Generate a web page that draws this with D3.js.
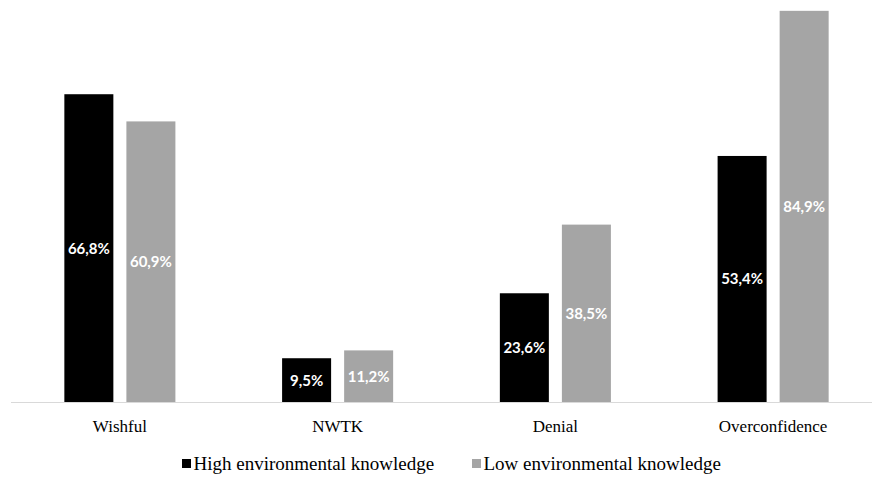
<!DOCTYPE html>
<html>
<head>
<meta charset="utf-8">
<script src="https://cdn.jsdelivr.net/npm/d3@7/dist/d3.min.js"></script>
<style>
  html, body { margin: 0; padding: 0; background: #fff; }
  svg { display: block; }
</style>
</head>
<body>
<svg id="chart" width="872" height="478"></svg>
<script>
// Denial-strategy shares by level of environmental knowledge (%)
const categories = ["Wishful", "NWTK", "Denial", "Overconfidence"];
const seriesNames = ["High environmental knowledge", "Low environmental knowledge"];
const highValues = [66.8, 9.5, 23.6, 53.4];
const lowValues = [60.9, 11.2, 38.5, 84.9];
const seriesColors = ["#000000", "#a5a5a5"];

const rows = categories.map((c, i) => ({
  category: c,
  values: [
    { series: seriesNames[0], value: highValues[i] },
    { series: seriesNames[1], value: lowValues[i] }
  ]
}));

const svg = d3.select("#chart");
const baseY = 402;

const x0 = d3.scaleBand().domain(categories).range([11, 882]).paddingInner(0).paddingOuter(0);
const x1 = d3.scaleBand().domain(seriesNames).range([0, x0.bandwidth()])
  .paddingInner(0.21).paddingOuter(0.86);
const y = d3.scaleLinear().domain([0, 87.25]).range([baseY, 0]);
const color = d3.scaleOrdinal().domain(seriesNames).range(seriesColors);

const fmt = v => d3.format(".1f")(v).replace(".", ",") + "%";

const groups = svg.append("g").selectAll("g")
  .data(rows).join("g")
  .attr("transform", d => `translate(${x0(d.category)},0)`);

groups.selectAll("rect")
  .data(d => d.values).join("rect")
  .attr("x", d => x1(d.series))
  .attr("y", d => y(d.value))
  .attr("width", x1.bandwidth())
  .attr("height", d => y(0) - y(d.value))
  .attr("fill", d => color(d.series));

groups.selectAll("text")
  .data(d => d.values).join("text")
  .attr("x", d => x1(d.series) + x1.bandwidth() / 2)
  .attr("y", d => (y(d.value) + y(0)) / 2)
  .attr("dy", "0.36em")
  .attr("text-anchor", "middle")
  .attr("fill", "#ffffff")
  .attr("font-family", "Lato, 'Liberation Sans', sans-serif")
  .attr("font-weight", "bold")
  .attr("font-size", "15px")
  .text(d => fmt(d.value));

// category axis
const xAxis = d3.axisBottom(x0).tickSize(0).tickPadding(0);
const axisG = svg.append("g")
  .attr("transform", `translate(0,${baseY + 0.5})`)
  .call(xAxis);
axisG.select(".domain").attr("stroke", "#d9d9d9").attr("stroke-width", 1.2)
  .attr("d", `M11,0H872`);
axisG.selectAll(".tick text")
  .attr("y", 29)
  .attr("dy", 0)
  .attr("fill", "#000")
  .attr("font-family", "'Liberation Serif', 'Times New Roman', serif")
  .attr("font-size", "17px");

// legend
const legendItems = [
  { name: seriesNames[0], x: 182 },
  { name: seriesNames[1], x: 472 }
];
const legend = svg.append("g").selectAll("g")
  .data(legendItems).join("g")
  .attr("transform", d => `translate(${d.x},470)`);
legend.append("rect")
  .attr("x", 0).attr("y", -11)
  .attr("width", 9).attr("height", 9)
  .attr("fill", d => color(d.name));
legend.append("text")
  .attr("x", 11.5).attr("y", 0)
  .attr("fill", "#000")
  .attr("font-family", "'Liberation Serif', 'Times New Roman', serif")
  .attr("font-size", "19px")
  .text(d => d.name);
</script>
</body>
</html>
